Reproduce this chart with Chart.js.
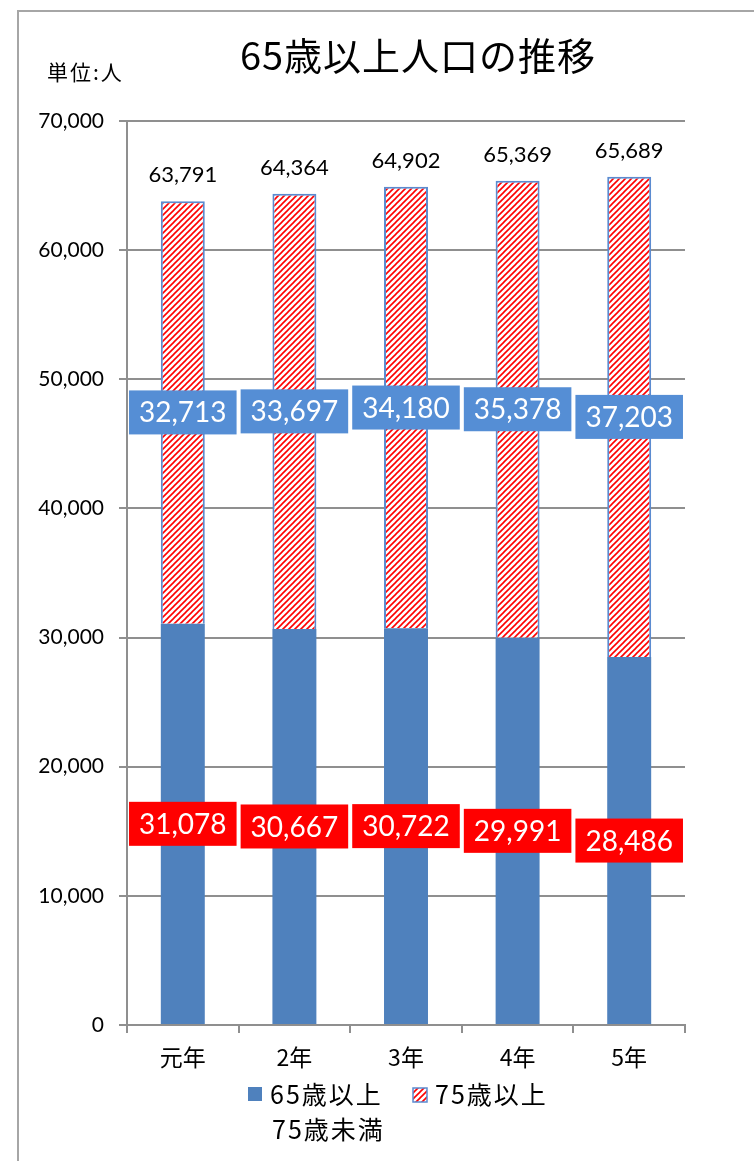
<!DOCTYPE html>
<html lang="ja">
<head>
<meta charset="utf-8">
<script src="https://cdn.jsdelivr.net/npm/chart.js@4.4.0/dist/chart.umd.min.js"></script>
<style>
html, body { margin: 0; padding: 0; background: #fff; }
canvas { display: block; }
</style>
</head>
<body>
<canvas id="chart" width="754" height="1161"></canvas>
<script>
// data
const years = ["元年", "2年", "3年", "4年", "5年"];
const age65to74 = [31078, 30667, 30722, 29991, 28486];
const age75plus = [32713, 33697, 34180, 35378, 37203];
const seriesNames = ["65歳以上\n75歳未満", "75歳以上"];
const yMax = 70000;
const yStep = 10000;

const titleText = "65歳以上人口の推移";
const unitText = "単位:人";

const JP = '"Noto Sans CJK JP", "Noto Sans", sans-serif';
const NUM = 'Lato, "Open Sans", sans-serif';
const BLUE = "#4f81bd";

function fmt(v) {
    return v.toLocaleString("en-US");
}

// red diagonal hatch on white
function makeHatch() {
    const s = 6;
    const c = document.createElement("canvas");
    c.width = s; c.height = s;
    const g = c.getContext("2d");
    g.fillStyle = "#fff";
    g.fillRect(0, 0, s, s);
    g.strokeStyle = "#ff0000";
    g.lineWidth = 1.6;
    g.beginPath(); g.moveTo(-1, s + 1); g.lineTo(s + 1, -1); g.stroke();
    g.beginPath(); g.moveTo(-1, 1); g.lineTo(1, -1); g.stroke();
    g.beginPath(); g.moveTo(s - 1, s + 1); g.lineTo(s + 1, s - 1); g.stroke();
    return g.createPattern(c, "repeat");
}

const hatch = makeHatch();

const decor = {
    id: "decor",
    beforeDraw(chart) {
        const ctx = chart.ctx;
        ctx.save();
        ctx.fillStyle = "#fff";
        ctx.fillRect(0, 0, chart.width, chart.height);
        ctx.strokeStyle = "#a6a6a6";
        ctx.lineWidth = 2;
        ctx.beginPath();
        ctx.moveTo(18, chart.height);
        ctx.lineTo(18, 11);
        ctx.lineTo(chart.width, 11);
        ctx.stroke();
        ctx.restore();
    },
    afterDatasetsDraw(chart) {
        const ctx = chart.ctx;
        ctx.save();
        ctx.textAlign = "center";
        ctx.textBaseline = "middle";
        ctx.font = "28px " + NUM;

        // boxed labels in the middle of each segment
        [0, 1].forEach(di => {
            const meta = chart.getDatasetMeta(di);
            const vals = chart.data.datasets[di].data;
            meta.data.forEach((bar, j) => {
                const cy = (bar.y + bar.base) / 2;
                const txt = fmt(vals[j]);
                const w = ctx.measureText(txt).width + 20;
                const h = 44;
                ctx.fillStyle = di === 0 ? "#ff0000" : "#558ed5";
                ctx.fillRect(bar.x - w / 2, cy - h / 2, w, h);
                ctx.fillStyle = "#fff";
                ctx.fillText(txt, bar.x, cy + 1);
            });
        });

        // totals above the bars
        ctx.font = "22px " + NUM;
        ctx.fillStyle = "#000";
        ctx.textBaseline = "alphabetic";
        const top = chart.getDatasetMeta(1);
        top.data.forEach((bar, j) => {
            ctx.fillText(fmt(age65to74[j] + age75plus[j]), bar.x, bar.y - 19);
        });
        ctx.restore();
    },
    afterDraw(chart) {
        const ctx = chart.ctx;
        ctx.save();
        ctx.fillStyle = "#000";
        ctx.textBaseline = "middle";

        // title
        ctx.textAlign = "center";
        ctx.font = "38px " + JP;
        ctx.letterSpacing = "1px";
        ctx.fillText(titleText, 418, 56);

        // unit
        ctx.textAlign = "left";
        ctx.font = "21px " + JP;
        ctx.letterSpacing = "2px";
        ctx.fillText(unitText, 47, 72);

        // legend
        ctx.font = "25px " + JP;
        ctx.letterSpacing = "2px";
        ctx.fillStyle = BLUE;
        ctx.fillRect(248, 1087, 14, 14);
        ctx.fillStyle = "#000";
        const lines = seriesNames[0].split("\n");
        ctx.fillText(lines[0], 270, 1094);
        ctx.fillText(lines[1], 272, 1129);

        ctx.fillStyle = hatch;
        ctx.fillRect(413, 1088, 14, 14);
        ctx.strokeStyle = "#5b8bd0";
        ctx.lineWidth = 1.5;
        ctx.strokeRect(413, 1088, 14, 14);
        ctx.fillStyle = "#000";
        ctx.fillText(seriesNames[1], 435, 1094);
        ctx.restore();
    }
};

const ctx = document.getElementById("chart").getContext("2d");

new Chart(ctx, {
    type: "bar",
    data: {
        labels: years,
        datasets: [
            {
                label: seriesNames[0],
                data: age65to74,
                backgroundColor: BLUE,
                borderWidth: 0,
                barPercentage: 0.394,
                categoryPercentage: 1
            },
            {
                label: seriesNames[1],
                data: age75plus,
                backgroundColor: hatch,
                borderColor: "#5b8bd0",
                borderWidth: 2,
                borderSkipped: "bottom",
                barPercentage: 0.394,
                categoryPercentage: 1
            }
        ]
    },
    options: {
        responsive: false,
        animation: false,
        layout: {
            padding: { top: 121, right: 69, bottom: 70, left: 0 }
        },
        plugins: {
            legend: { display: false },
            title: { display: false },
            tooltip: { enabled: false }
        },
        scales: {
            x: {
                stacked: true,
                afterFit: s => { s.height = 66; },
                grid: {
                    offset: true,
                    drawOnChartArea: false,
                    drawTicks: true,
                    tickLength: 8,
                    color: "#8f8f8f",
                    lineWidth: 2
                },
                border: { display: true, color: "#8f8f8f", width: 2 },
                ticks: {
                    color: "#000",
                    font: { family: JP, size: 23 },
                    padding: 10,
                    maxRotation: 0
                }
            },
            y: {
                stacked: true,
                min: 0,
                max: yMax,
                afterFit: s => { s.width = 127; },
                grid: {
                    color: "#8f8f8f",
                    lineWidth: 2,
                    tickLength: 8
                },
                border: { display: true, color: "#8f8f8f", width: 2 },
                ticks: {
                    stepSize: yStep,
                    color: "#000",
                    font: { family: NUM, size: 21 },
                    padding: 15,
                    callback: v => fmt(v)
                }
            }
        }
    },
    plugins: [decor]
});
</script>
</body>
</html>
